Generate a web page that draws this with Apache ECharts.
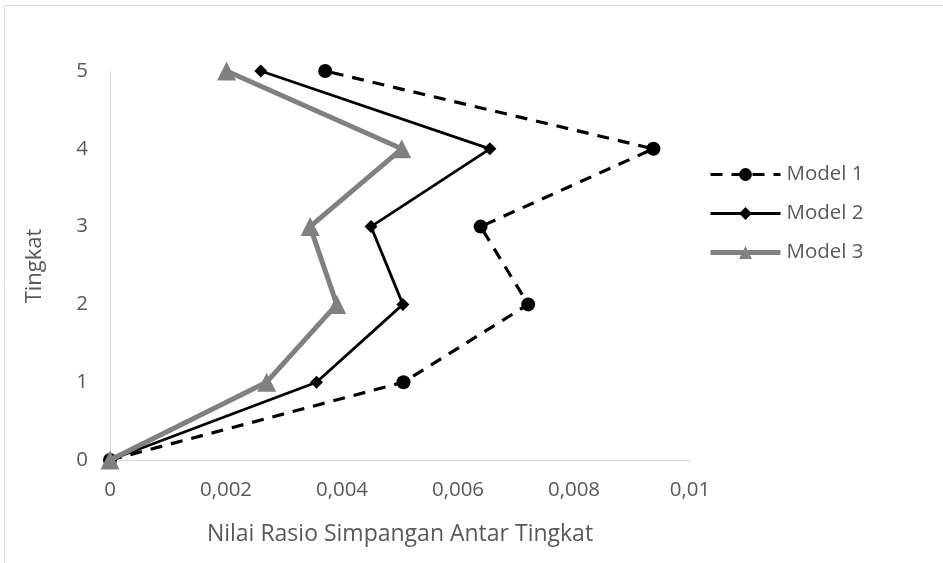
<!DOCTYPE html>
<html>
<head>
<meta charset="utf-8">
<script src="https://cdn.jsdelivr.net/npm/echarts@6/dist/echarts.min.js"></script>
<style>
  html, body { margin: 0; padding: 0; background: #fff; }
  #chart { width: 943px; height: 563px; }
</style>
</head>
<body>
<div id="chart"></div>
<script>
// Storey levels (y) and inter-storey drift ratios (x) per model
const levels = [0, 1, 2, 3, 4, 5];
const model1 = [0, 0.00506, 0.00721, 0.00639, 0.00937, 0.00371];
const model2 = [0, 0.00356, 0.00505, 0.00450, 0.00655, 0.00260];
const model3 = [0, 0.00270, 0.00391, 0.00345, 0.00503, 0.00201];
const seriesNames = ['Model 1', 'Model 2', 'Model 3'];
const xTitle = 'Nilai Rasio Simpangan Antar Tingkat';
const yTitle = 'Tingkat';

const pairs = vals => vals.map((v, i) => [v, levels[i]]);
const FONT = '"Open Sans", "Liberation Sans", sans-serif';
const TXT = '#595959';
const FS = 20.5;

const styles = [
  { symbol: 'circle', size: 14, color: '#000', width: 3.2, type: [12, 9] },
  { symbol: 'diamond', size: 13, color: '#000', width: 2.8, type: 'solid' },
  { symbol: 'triangle', size: 19, color: '#808080', width: 5, type: 'solid' }
];
const dataSets = [model1, model2, model3];

const chart = echarts.init(document.getElementById('chart'));
chart.setOption({
  animation: false,
  backgroundColor: '#fff',
  grid: { left: 110, right: 253, top: 71, bottom: 103, containLabel: false },
  xAxis: {
    type: 'value', min: 0, max: 0.01, interval: 0.002,
    axisLine: { show: true, lineStyle: { color: '#d9d9d9', width: 1 } },
    axisTick: { show: false },
    splitLine: { show: false },
    axisLabel: {
      color: TXT, fontSize: FS, fontFamily: FONT, margin: 20,
      formatter: v => String(+v.toFixed(4)).replace('.', ',')
    }
  },
  yAxis: {
    type: 'value', min: 0, max: 5, interval: 1,
    axisLine: { show: true, lineStyle: { color: '#d9d9d9', width: 1 } },
    axisTick: { show: false },
    splitLine: { show: false },
    axisLabel: { color: TXT, fontSize: FS, fontFamily: FONT, margin: 22 }
  },
  legend: {
    orient: 'vertical', left: 708, top: 164, itemGap: 18, padding: 0,
    itemWidth: 70, itemHeight: 16,
    textStyle: { color: TXT, fontSize: FS, fontFamily: FONT, padding: [0, 0, 0, 1] },
    data: seriesNames.map((n, i) => ({
      name: n,
      lineStyle: { width: styles[i].width, type: styles[i].type, color: styles[i].color }
    }))
  },
  graphic: [
    { type: 'rect', shape: { x: 4.5, y: 5.5, width: 1200, height: 900 },
      style: { fill: 'none', stroke: '#d9d9d9', lineWidth: 1 }, silent: true, z: -1 },
    { type: 'text', x: 400, y: 534,
      style: { text: xTitle, fill: TXT, fontSize: 23, fontFamily: FONT,
               textAlign: 'center', textVerticalAlign: 'middle' } },
    { type: 'text', x: 35, y: 266, rotation: Math.PI / 2,
      style: { text: yTitle, fill: TXT, fontSize: 22, fontFamily: FONT,
               textAlign: 'center', textVerticalAlign: 'middle' } }
  ],
  series: dataSets.map((d, i) => ({
    name: seriesNames[i], type: 'line', data: pairs(d),
    symbol: styles[i].symbol, symbolSize: styles[i].size,
    itemStyle: { color: styles[i].color },
    lineStyle: { color: styles[i].color, width: styles[i].width, type: styles[i].type },
    z: 2 + i
  }))
});
</script>
</body>
</html>
